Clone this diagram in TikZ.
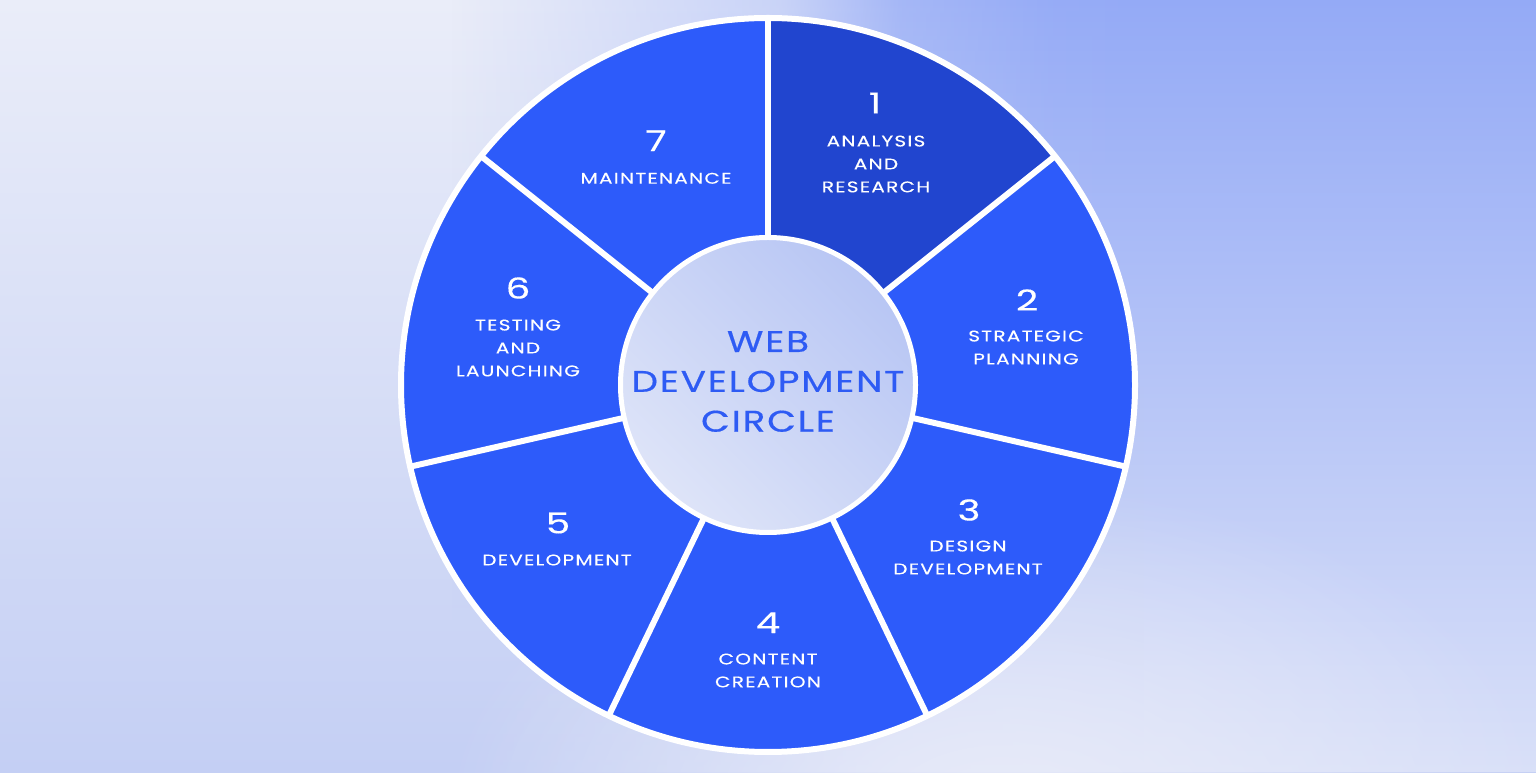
\documentclass[tikz,border=0pt]{standalone}
\usepackage{fontspec}
\setmainfont{Poppins}
\newfontfamily\lblfont{Poppins}[FakeStretch=1.3,LetterSpace=8,FakeBold=0.3]
\newfontfamily\ctrfont{Poppins}[FakeStretch=1.25,LetterSpace=6,FakeBold=0.5]
\newfontfamily\numfont{Poppins}[FakeStretch=1.35,FakeBold=0.3]
\usetikzlibrary{fadings}
\definecolor{seg}{HTML}{2D5BFA}
\definecolor{segdark}{HTML}{2145CF}
\definecolor{ctxt}{HTML}{2E5BF4}
\definecolor{inlight}{HTML}{DEE4F8}
\definecolor{indark}{HTML}{B8C6F4}
\definecolor{lt}{HTML}{EAEDF9}
\definecolor{lm}{HTML}{CFD8F6}
\definecolor{lb}{HTML}{C4CFF4}
\definecolor{rt}{HTML}{94AAF6}
\definecolor{rm}{HTML}{99AEF6}
\definecolor{rb}{HTML}{D9E0F8}
\definecolor{glow}{HTML}{E8EBF9}
\begin{tikzfadingfrompicture}[name=hfade,x=1bp,y=1bp]
  \fill[transparent!100] (0,0) rectangle (450,772);
  \shade[left color=transparent!100, right color=transparent!62] (450,0) rectangle (780,772);
  \shade[left color=transparent!62, right color=transparent!20] (780,0) rectangle (900,772);
  \shade[left color=transparent!20, right color=transparent!3] (900,0) rectangle (1050,772);
  \shade[left color=transparent!3, right color=transparent!0] (1050,0) rectangle (1150,772);
  \fill[transparent!0] (1150,0) rectangle (1536,772);
\end{tikzfadingfrompicture}
\tikzfading[name=glowfade, inner color=transparent!0, outer color=transparent!100]
\begin{document}
\begin{tikzpicture}[x=1bp,y=1bp,
  lbl/.style={text=white, font=\lblfont\fontsize{15.5}{23}\selectfont, align=center, inner sep=0pt},
  num/.style={text=white, font=\numfont\fontsize{29}{30}\selectfont, inner sep=0pt},
  ctr/.style={text=ctxt, font=\ctrfont\fontsize{30}{40}\selectfont, align=center, inner sep=0pt},
  gap/.style={white, line width=6bp}]
\useasboundingbox (0,0) rectangle (1536,772);
% background
\shade[top color=lt, middle color=lm, bottom color=lb] (0,0) rectangle (1536,772);
\shade[top color=rt, middle color=rm, bottom color=rb, path fading=hfade, fit fading=false, fading transform={xshift=768bp, yshift=386bp}] (0,0) rectangle (1536,772);
\fill[glow, path fading=glowfade] (1000,-40) ellipse[x radius=560, y radius=330];
\coordinate (C) at (768,387);
% ring
\fill[seg] (C) circle[radius=367];
\fill[segdark] (C) -- ++(38.571:367) arc[start angle=38.571, end angle=90, radius=367] -- cycle;
\foreach \a in {90,38.571,-12.857,-64.286,-115.714,-167.143,141.429}
  \draw[gap] (C) -- ++(\a:367);
\draw[gap] (C) circle[radius=367];
% hub
\shade[top color=indark, bottom color=inlight, shading angle=-45] (C) circle[radius=147.5];
\draw[white, line width=5bp] (C) circle[radius=147.5];
\node[ctr] (hub) at (768,390.5) {WEB\\DEVELOPMENT\\CIRCLE};
% labels
\node[num] (n1) at (875,669) {1};
\node[lbl] (l1) at (876,608) {ANALYSIS\\AND\\RESEARCH};
\node[num] (n2) at (1027,472) {2};
\node[lbl] (l2) at (1026,424.5) {STRATEGIC\\PLANNING};
\node[num] (n3) at (969,262) {3};
\node[lbl] (l3) at (968,214.5) {DESIGN\\DEVELOPMENT};
\node[num] (n4) at (768,149.3) {4};
\node[lbl] (l4) at (768,101.5) {CONTENT\\CREATION};
\node[num] (n5) at (558,249) {5};
\node[lbl] (l5) at (557,212) {DEVELOPMENT};
\node[num] (n6) at (518,484) {6};
\node[lbl] (l6) at (518,424) {TESTING\\AND\\LAUNCHING};
\node[num] (n7) at (656,631.3) {7};
\node[lbl] (l7) at (656,593.7) {MAINTENANCE};
\end{tikzpicture}
\end{document}
